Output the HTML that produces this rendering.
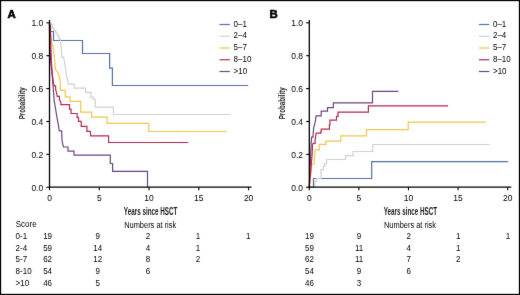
<!DOCTYPE html>
<html><head><meta charset="utf-8"><style>
html,body{margin:0;padding:0;background:#fff;}
body{width:520px;height:295px;overflow:hidden;}
svg{display:block;will-change:transform;}
.t{font-family:"Liberation Sans", sans-serif;font-size:8px;fill:#000;}
.k{font-family:"Liberation Sans", sans-serif;font-size:8.5px;fill:#000;}
.L{font-family:"Liberation Sans", sans-serif;font-size:11.4px;font-weight:bold;fill:#000;stroke:#000;stroke-width:0.6px;}
.C{font-family:"Liberation Sans", sans-serif;font-size:10px;fill:#1a1a1a;font-weight:bold;}
.C2{font-family:"Liberation Sans", sans-serif;font-size:9.2px;fill:#1a1a1a;font-weight:bold;}
</style></head><body>
<svg width="520" height="295" viewBox="0 0 520 295">
<defs><filter id="sm" x="0" y="0" width="520" height="295" filterUnits="userSpaceOnUse" color-interpolation-filters="sRGB"><feConvolveMatrix order="3" kernelMatrix="0.0064 0.08 0.0064 0.08 1 0.08 0.0064 0.08 0.0064" edgeMode="duplicate" preserveAlpha="true"/></filter></defs>
<g filter="url(#sm)">
<rect x="0.5" y="0.5" width="519" height="294" fill="#fff" stroke="#000" stroke-width="1.3"/>
<text x="7.4" y="17.8" class="L">A</text><path d="M49.5,23 L49.6,40 L50.6,60 L52.1,75 L53,85 L54.1,100 L55.6,109.2 L56.6,115.3 L57.6,120.9 L58.6,126.4 L59.3,130.9 H61.7 L61.9,139.3 L62.6,143.4 L63.5,147 H68 V151.1 H74 V155.2 H110.3 V163.5 H112.6 V171.4 H147.5 V187.3" fill="none" stroke="#6a4680" stroke-width="1.2"/><path d="M49.5,23 L50.1,30 L50.7,34.6 L51.9,44 L53.1,46 L53.9,53.8 L54.7,60 L55.4,69.5 L56.8,70.8 L58.5,74.2 L59.8,79 L60.3,84 V90.3 H65.3 V96.8 H70 V101.4 H80.7 V112.1 H91.6 V117.2 H107.1 V123.35 H148.8 V131.5 H226.6" fill="none" stroke="#f0c64a" stroke-width="1.2"/><path d="M49.5,23 V31.5 H53.5 V40.5 H82.5 V53.5 H109.6 V68.1 H112.4 V85.5 H248.3" fill="none" stroke="#5670a5" stroke-width="1.2"/><path d="M49.5,23 H51 V24.5 H52.3 V27.7 H53.9 V30.6 H55.9 V33 H57.1 V35 H58.4 V37.1 H59.2 V39.1 H60.4 V41.6 L61,44 L61.5,52 L61.9,57.3 H63.7 L64.5,62 L67,78 L67.5,80.4 L68.5,84.1 H74.2 V88.2 H85.6 V92.3 H90.9 V97.1 H93.2 V99.5 H95.3 V107.2 H113.4 V114.5 H230.5" fill="none" stroke="#d0d0d0" stroke-width="1.2"/><path d="M49.5,23 L50.5,26 L50.8,44 L51.5,63.6 L52.6,76.7 L53.9,85.9 H55.6 V89.5 L56.5,92.6 L57.2,96.3 H59.4 V99.3 L60.8,102.4 V104.7 H69.5 V109.2 H71 V113.5 H77.1 V117.3 H78.5 V121.4 H81.2 V126.3 H86.9 V131.3 H90.5 V135.8 H108.6 V142.5 H188.4" fill="none" stroke="#b52a50" stroke-width="1.2"/><line x1="49.5" y1="20" x2="49.5" y2="187.9" stroke="#000" stroke-width="1.3"/><line x1="48.9" y1="187.2" x2="251.5" y2="187.2" stroke="#000" stroke-width="1.3"/><line x1="46.3" y1="22.8" x2="49.5" y2="22.8" stroke="#000" stroke-width="1.1"/><text x="43.2" y="26.1" transform="matrix(1,0,0,1.03,0,-0.783)" text-anchor="end" class="k">1.0</text><line x1="46.3" y1="55.7" x2="49.5" y2="55.7" stroke="#000" stroke-width="1.1"/><text x="43.2" y="59.0" transform="matrix(1,0,0,1.03,0,-1.770)" text-anchor="end" class="k">0.8</text><line x1="46.3" y1="88.6" x2="49.5" y2="88.6" stroke="#000" stroke-width="1.1"/><text x="43.2" y="91.89999999999999" transform="matrix(1,0,0,1.03,0,-2.757)" text-anchor="end" class="k">0.6</text><line x1="46.3" y1="121.5" x2="49.5" y2="121.5" stroke="#000" stroke-width="1.1"/><text x="43.2" y="124.8" transform="matrix(1,0,0,1.03,0,-3.744)" text-anchor="end" class="k">0.4</text><line x1="46.3" y1="154.4" x2="49.5" y2="154.4" stroke="#000" stroke-width="1.1"/><text x="43.2" y="157.70000000000002" transform="matrix(1,0,0,1.03,0,-4.731)" text-anchor="end" class="k">0.2</text><line x1="46.3" y1="187.3" x2="49.5" y2="187.3" stroke="#000" stroke-width="1.1"/><text x="43.2" y="190.60000000000002" transform="matrix(1,0,0,1.03,0,-5.718)" text-anchor="end" class="k">0.0</text><line x1="49.50" y1="187.2" x2="49.50" y2="190.3" stroke="#000" stroke-width="1.1"/><text x="49.50" y="200.7" transform="matrix(1,0,0,1.03,0,-6.021)" text-anchor="middle" class="k">0</text><line x1="99.28" y1="187.2" x2="99.28" y2="190.3" stroke="#000" stroke-width="1.1"/><text x="99.28" y="200.7" transform="matrix(1,0,0,1.03,0,-6.021)" text-anchor="middle" class="k">5</text><line x1="149.06" y1="187.2" x2="149.06" y2="190.3" stroke="#000" stroke-width="1.1"/><text x="149.06" y="200.7" transform="matrix(1,0,0,1.03,0,-6.021)" text-anchor="middle" class="k">10</text><line x1="198.84" y1="187.2" x2="198.84" y2="190.3" stroke="#000" stroke-width="1.1"/><text x="198.84" y="200.7" transform="matrix(1,0,0,1.03,0,-6.021)" text-anchor="middle" class="k">15</text><line x1="248.62" y1="187.2" x2="248.62" y2="190.3" stroke="#000" stroke-width="1.1"/><text x="248.62" y="200.7" transform="matrix(1,0,0,1.03,0,-6.021)" text-anchor="middle" class="k">20</text><line x1="219.5" y1="24.50" x2="229.89999999999998" y2="24.50" stroke="#5670a5" stroke-width="1.2"/><text x="233.6" y="26.70" transform="matrix(1,0,0,1.03,0,-0.801)" class="t">0–1</text><line x1="219.5" y1="36.25" x2="229.89999999999998" y2="36.25" stroke="#d0d0d0" stroke-width="1.2"/><text x="233.6" y="38.45" transform="matrix(1,0,0,1.03,0,-1.154)" class="t">2–4</text><line x1="219.5" y1="48.00" x2="229.89999999999998" y2="48.00" stroke="#f0c64a" stroke-width="1.2"/><text x="233.6" y="50.20" transform="matrix(1,0,0,1.03,0,-1.506)" class="t">5–7</text><line x1="219.5" y1="59.75" x2="229.89999999999998" y2="59.75" stroke="#b52a50" stroke-width="1.2"/><text x="233.6" y="61.95" transform="matrix(1,0,0,1.03,0,-1.859)" class="t">8–10</text><line x1="219.5" y1="71.50" x2="229.89999999999998" y2="71.50" stroke="#6a4680" stroke-width="1.2"/><text x="233.6" y="73.70" transform="matrix(1,0,0,1.03,0,-2.211)" class="t">&gt;10</text><text x="150.6" y="214.7" text-anchor="middle" class="C" textLength="53.5" lengthAdjust="spacingAndGlyphs">Years since HSCT</text><text x="150.2" y="227.6" transform="matrix(1,0,0,1.03,0,-6.828)" text-anchor="middle" class="t" textLength="52" lengthAdjust="spacingAndGlyphs">Numbers at risk</text><text x="47.60" y="238.80" transform="matrix(1,0,0,1.03,0,-7.164)" text-anchor="middle" class="t">19</text><text x="97.75" y="238.80" transform="matrix(1,0,0,1.03,0,-7.164)" text-anchor="middle" class="t">9</text><text x="147.90" y="238.80" transform="matrix(1,0,0,1.03,0,-7.164)" text-anchor="middle" class="t">2</text><text x="198.05" y="238.80" transform="matrix(1,0,0,1.03,0,-7.164)" text-anchor="middle" class="t">1</text><text x="248.20" y="238.80" transform="matrix(1,0,0,1.03,0,-7.164)" text-anchor="middle" class="t">1</text><text x="47.60" y="250.65" transform="matrix(1,0,0,1.03,0,-7.520)" text-anchor="middle" class="t">59</text><text x="97.75" y="250.65" transform="matrix(1,0,0,1.03,0,-7.520)" text-anchor="middle" class="t">14</text><text x="147.90" y="250.65" transform="matrix(1,0,0,1.03,0,-7.520)" text-anchor="middle" class="t">4</text><text x="198.05" y="250.65" transform="matrix(1,0,0,1.03,0,-7.520)" text-anchor="middle" class="t">1</text><text x="47.60" y="262.50" transform="matrix(1,0,0,1.03,0,-7.875)" text-anchor="middle" class="t">62</text><text x="97.75" y="262.50" transform="matrix(1,0,0,1.03,0,-7.875)" text-anchor="middle" class="t">12</text><text x="147.90" y="262.50" transform="matrix(1,0,0,1.03,0,-7.875)" text-anchor="middle" class="t">8</text><text x="198.05" y="262.50" transform="matrix(1,0,0,1.03,0,-7.875)" text-anchor="middle" class="t">2</text><text x="47.60" y="274.35" transform="matrix(1,0,0,1.03,0,-8.231)" text-anchor="middle" class="t">54</text><text x="97.75" y="274.35" transform="matrix(1,0,0,1.03,0,-8.231)" text-anchor="middle" class="t">9</text><text x="147.90" y="274.35" transform="matrix(1,0,0,1.03,0,-8.231)" text-anchor="middle" class="t">6</text><text x="47.60" y="286.20" transform="matrix(1,0,0,1.03,0,-8.586)" text-anchor="middle" class="t">46</text><text x="97.75" y="286.20" transform="matrix(1,0,0,1.03,0,-8.586)" text-anchor="middle" class="t">5</text><text x="269.5" y="17.8" class="L">B</text><path d="M309.3,187.3 L310.5,160 L311.1,144.8 L311.6,137.2 H313.1 V135.2 L313.6,128 L315.1,122.4 L316.1,115.8 H321.2 V111.2 H327.5 V107.7 H333.4 V102.9 H372.5 V91.3 H398.4" fill="none" stroke="#6a4680" stroke-width="1.2"/><path d="M309.3,187.3 L311.9,164 H313.9 L314.9,155 V149.9 H319.2 V144.3 H325.8 V141.1 H340.8 V135.8 H366.5 V129.6 H408.2 V122.1 H485.7" fill="none" stroke="#f0c64a" stroke-width="1.2"/><path d="M309.3,187.3 H313.5 V178.5 H371.7 V161.6 H508.1" fill="none" stroke="#5670a5" stroke-width="1.2"/><path d="M309.3,187.3 H314.8 V181.5 H316.7 V178.5 H321 V169.7 H323.3 V166.3 H324.7 V163.6 H326.7 V159.5 H345.6 V155.6 H353.1 V151.5 H372.8 V144.5 H489.5" fill="none" stroke="#d0d0d0" stroke-width="1.2"/><path d="M309.3,187.3 L312.1,155 L312.5,145.4 L313.1,143.3 H315.1 V140.3 L316.1,133.1 H320.7 V132.1 H321.2 V129.1 H329.4 V125 H329.9 V120.2 H336.5 V116.3 H338 V112.2 H368.4 V105.8 H448.1" fill="none" stroke="#b52a50" stroke-width="1.2"/><line x1="309.3" y1="20" x2="309.3" y2="187.9" stroke="#000" stroke-width="1.3"/><line x1="308.7" y1="187.2" x2="511.3" y2="187.2" stroke="#000" stroke-width="1.3"/><line x1="306.1" y1="22.8" x2="309.3" y2="22.8" stroke="#000" stroke-width="1.1"/><text x="303.0" y="26.1" transform="matrix(1,0,0,1.03,0,-0.783)" text-anchor="end" class="k">1.0</text><line x1="306.1" y1="55.7" x2="309.3" y2="55.7" stroke="#000" stroke-width="1.1"/><text x="303.0" y="59.0" transform="matrix(1,0,0,1.03,0,-1.770)" text-anchor="end" class="k">0.8</text><line x1="306.1" y1="88.6" x2="309.3" y2="88.6" stroke="#000" stroke-width="1.1"/><text x="303.0" y="91.89999999999999" transform="matrix(1,0,0,1.03,0,-2.757)" text-anchor="end" class="k">0.6</text><line x1="306.1" y1="121.5" x2="309.3" y2="121.5" stroke="#000" stroke-width="1.1"/><text x="303.0" y="124.8" transform="matrix(1,0,0,1.03,0,-3.744)" text-anchor="end" class="k">0.4</text><line x1="306.1" y1="154.4" x2="309.3" y2="154.4" stroke="#000" stroke-width="1.1"/><text x="303.0" y="157.70000000000002" transform="matrix(1,0,0,1.03,0,-4.731)" text-anchor="end" class="k">0.2</text><line x1="306.1" y1="187.3" x2="309.3" y2="187.3" stroke="#000" stroke-width="1.1"/><text x="303.0" y="190.60000000000002" transform="matrix(1,0,0,1.03,0,-5.718)" text-anchor="end" class="k">0.0</text><line x1="309.30" y1="187.2" x2="309.30" y2="190.3" stroke="#000" stroke-width="1.1"/><text x="309.30" y="200.7" transform="matrix(1,0,0,1.03,0,-6.021)" text-anchor="middle" class="k">0</text><line x1="358.90" y1="187.2" x2="358.90" y2="190.3" stroke="#000" stroke-width="1.1"/><text x="358.90" y="200.7" transform="matrix(1,0,0,1.03,0,-6.021)" text-anchor="middle" class="k">5</text><line x1="408.50" y1="187.2" x2="408.50" y2="190.3" stroke="#000" stroke-width="1.1"/><text x="408.50" y="200.7" transform="matrix(1,0,0,1.03,0,-6.021)" text-anchor="middle" class="k">10</text><line x1="458.10" y1="187.2" x2="458.10" y2="190.3" stroke="#000" stroke-width="1.1"/><text x="458.10" y="200.7" transform="matrix(1,0,0,1.03,0,-6.021)" text-anchor="middle" class="k">15</text><line x1="507.70" y1="187.2" x2="507.70" y2="190.3" stroke="#000" stroke-width="1.1"/><text x="507.70" y="200.7" transform="matrix(1,0,0,1.03,0,-6.021)" text-anchor="middle" class="k">20</text><line x1="478.90000000000003" y1="24.50" x2="489.3" y2="24.50" stroke="#5670a5" stroke-width="1.2"/><text x="493.0" y="26.70" transform="matrix(1,0,0,1.03,0,-0.801)" class="t">0–1</text><line x1="478.90000000000003" y1="36.25" x2="489.3" y2="36.25" stroke="#d0d0d0" stroke-width="1.2"/><text x="493.0" y="38.45" transform="matrix(1,0,0,1.03,0,-1.154)" class="t">2–4</text><line x1="478.90000000000003" y1="48.00" x2="489.3" y2="48.00" stroke="#f0c64a" stroke-width="1.2"/><text x="493.0" y="50.20" transform="matrix(1,0,0,1.03,0,-1.506)" class="t">5–7</text><line x1="478.90000000000003" y1="59.75" x2="489.3" y2="59.75" stroke="#b52a50" stroke-width="1.2"/><text x="493.0" y="61.95" transform="matrix(1,0,0,1.03,0,-1.859)" class="t">8–10</text><line x1="478.90000000000003" y1="71.50" x2="489.3" y2="71.50" stroke="#6a4680" stroke-width="1.2"/><text x="493.0" y="73.70" transform="matrix(1,0,0,1.03,0,-2.211)" class="t">&gt;10</text><text x="410.4" y="214.7" text-anchor="middle" class="C" textLength="53.5" lengthAdjust="spacingAndGlyphs">Years since HSCT</text><text x="410.0" y="227.6" transform="matrix(1,0,0,1.03,0,-6.828)" text-anchor="middle" class="t" textLength="52" lengthAdjust="spacingAndGlyphs">Numbers at risk</text><text x="309.50" y="238.80" transform="matrix(1,0,0,1.03,0,-7.164)" text-anchor="middle" class="t">19</text><text x="359.10" y="238.80" transform="matrix(1,0,0,1.03,0,-7.164)" text-anchor="middle" class="t">9</text><text x="408.70" y="238.80" transform="matrix(1,0,0,1.03,0,-7.164)" text-anchor="middle" class="t">2</text><text x="458.30" y="238.80" transform="matrix(1,0,0,1.03,0,-7.164)" text-anchor="middle" class="t">1</text><text x="507.90" y="238.80" transform="matrix(1,0,0,1.03,0,-7.164)" text-anchor="middle" class="t">1</text><text x="309.50" y="250.65" transform="matrix(1,0,0,1.03,0,-7.520)" text-anchor="middle" class="t">59</text><text x="359.10" y="250.65" transform="matrix(1,0,0,1.03,0,-7.520)" text-anchor="middle" class="t">11</text><text x="408.70" y="250.65" transform="matrix(1,0,0,1.03,0,-7.520)" text-anchor="middle" class="t">4</text><text x="458.30" y="250.65" transform="matrix(1,0,0,1.03,0,-7.520)" text-anchor="middle" class="t">1</text><text x="309.50" y="262.50" transform="matrix(1,0,0,1.03,0,-7.875)" text-anchor="middle" class="t">62</text><text x="359.10" y="262.50" transform="matrix(1,0,0,1.03,0,-7.875)" text-anchor="middle" class="t">11</text><text x="408.70" y="262.50" transform="matrix(1,0,0,1.03,0,-7.875)" text-anchor="middle" class="t">7</text><text x="458.30" y="262.50" transform="matrix(1,0,0,1.03,0,-7.875)" text-anchor="middle" class="t">2</text><text x="309.50" y="274.35" transform="matrix(1,0,0,1.03,0,-8.231)" text-anchor="middle" class="t">54</text><text x="359.10" y="274.35" transform="matrix(1,0,0,1.03,0,-8.231)" text-anchor="middle" class="t">9</text><text x="408.70" y="274.35" transform="matrix(1,0,0,1.03,0,-8.231)" text-anchor="middle" class="t">6</text><text x="309.50" y="286.20" transform="matrix(1,0,0,1.03,0,-8.586)" text-anchor="middle" class="t">46</text><text x="359.10" y="286.20" transform="matrix(1,0,0,1.03,0,-8.586)" text-anchor="middle" class="t">3</text><text transform="translate(25.0,103.3) rotate(-90)" text-anchor="middle" class="C2" textLength="32" lengthAdjust="spacingAndGlyphs">Probability</text><text transform="translate(285.0,103.3) rotate(-90)" text-anchor="middle" class="C2" textLength="32" lengthAdjust="spacingAndGlyphs">Probability</text><text x="15.8" y="227.1" transform="matrix(1,0,0,1.03,0,-6.813)" class="t">Score</text><text x="15.6" y="238.80" transform="matrix(1,0,0,1.03,0,-7.164)" class="t">0-1</text><text x="15.6" y="250.65" transform="matrix(1,0,0,1.03,0,-7.520)" class="t">2-4</text><text x="15.6" y="262.50" transform="matrix(1,0,0,1.03,0,-7.875)" class="t">5-7</text><text x="15.6" y="274.35" transform="matrix(1,0,0,1.03,0,-8.231)" class="t">8-10</text><text x="15.6" y="286.20" transform="matrix(1,0,0,1.03,0,-8.586)" class="t">&gt;10</text>
</g>
</svg></body></html>
